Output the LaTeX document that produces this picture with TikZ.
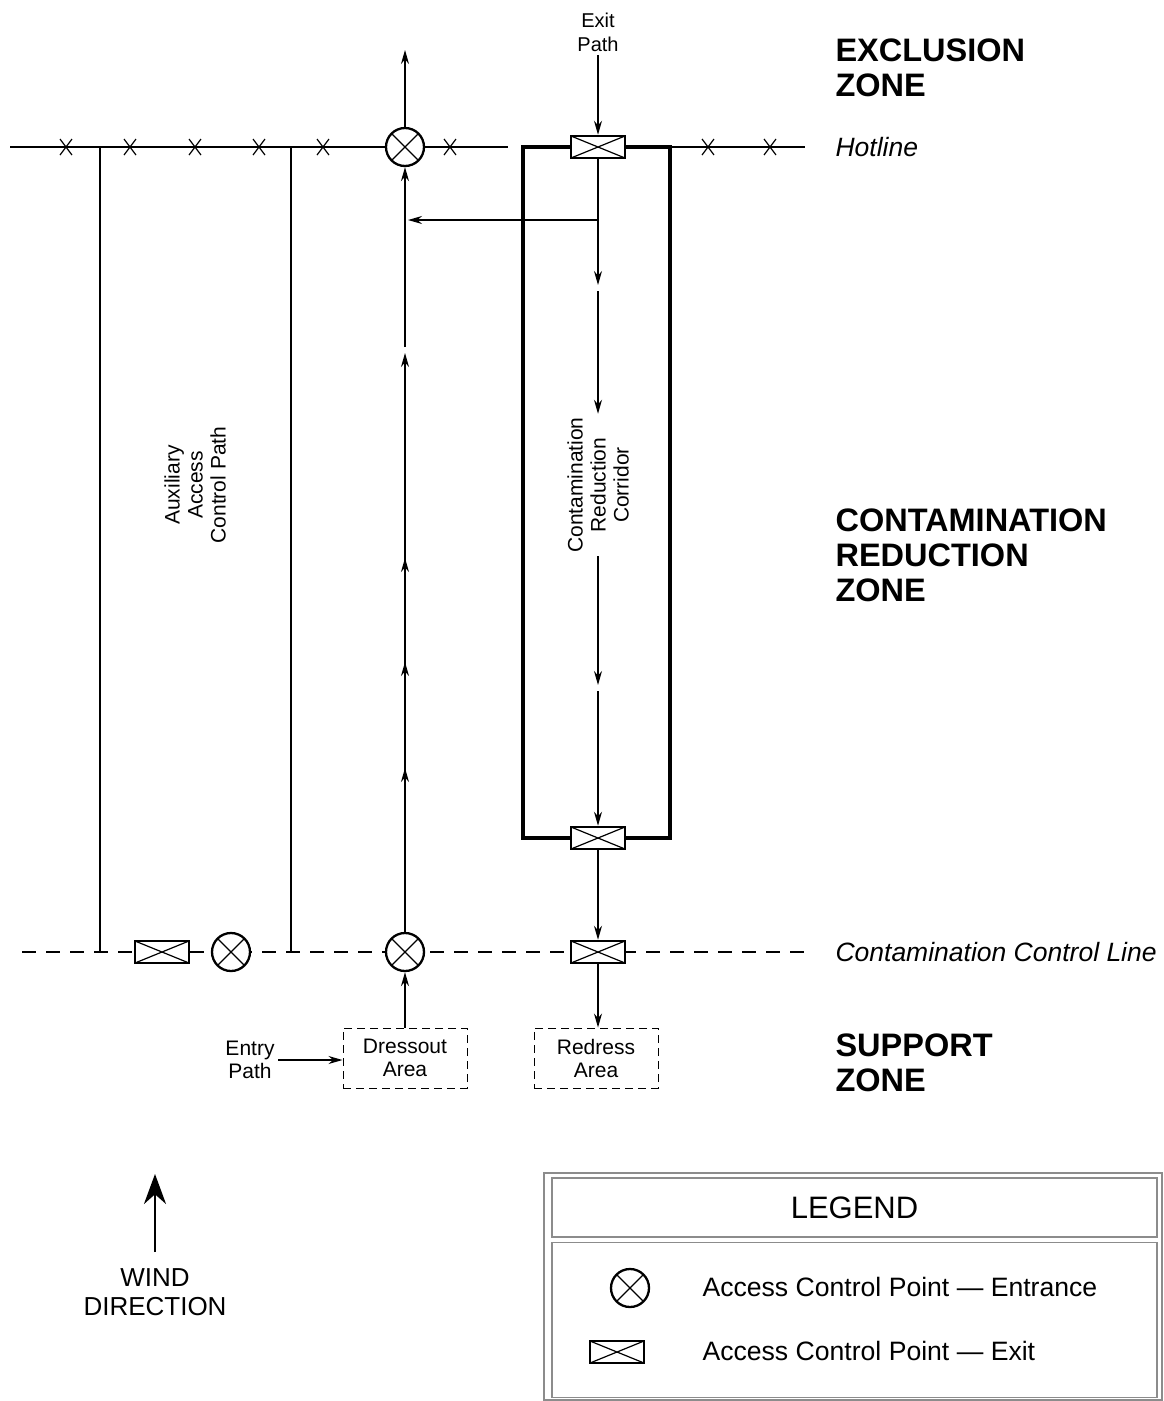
\documentclass[tikz,border=0pt]{standalone}
\usepackage{fontspec}
\setmainfont{Liberation Sans}
\usetikzlibrary{arrows.meta}
\begin{document}
\begin{tikzpicture}[x=1pt,y=-1pt,
  font=\fontsize{21}{23}\selectfont,
  hot/.style={line width=2pt},
  thinline/.style={line width=1.3pt},
  corridor/.style={line width=4pt},
  flow/.style={line width=1.3pt,-{Stealth[length=14pt,width=8pt]}},
  ctrl/.style={line width=2.5pt,dash pattern=on 14pt off 10pt},
  xmark/.style={line width=1.2pt},
  acp/.style={circle,draw,line width=2.3pt,minimum size=38pt,inner sep=0pt,fill=white,
    path picture={\draw[line width=1.2pt]
      (path picture bounding box.north west)--(path picture bounding box.south east)
      (path picture bounding box.north east)--(path picture bounding box.south west);}},
  exitbox/.style={rectangle,draw,line width=2.5pt,minimum width=54pt,minimum height=22pt,inner sep=0pt,fill=white,
    path picture={\draw[line width=1.2pt]
      (path picture bounding box.north west)--(path picture bounding box.south east)
      (path picture bounding box.north east)--(path picture bounding box.south west);}},
  area/.style={draw,line width=1pt,dash pattern=on 8pt off 5pt,minimum width=124pt,minimum height=60pt,
    align=center,inner sep=0pt},
  zone/.style={anchor=west,align=left,font=\bfseries\fontsize{32.5}{35}\selectfont},
  linelbl/.style={anchor=west,font=\itshape\fontsize{26.5}{30}\selectfont},
  legtext/.style={anchor=west,font=\fontsize{26.6}{30}\selectfont},
  frameline/.style={draw=black!45,line width=1.5pt}
]
\useasboundingbox (0,0) rectangle (1164,1401);

% ---------- hotline ----------
\node[acp] (hc) at (405,147) {};
\node[exitbox] (hx) at (598,147) {};
\coordinate (hl0) at (10,147);
\coordinate (hl1) at (508,147);
\coordinate (hr0) at (670,147);
\coordinate (hr1) at (805,147);
\draw[hot] (hl0) -- (hc.west);
\draw[hot] (hc.east) -- (hl1);
\draw[hot] (hr0) -- (hr1);
\foreach \x in {66,130,195,259,323,450,708,770}
  \draw[xmark] (\x-6,139) -- (\x+6,155) (\x+6,139) -- (\x-6,155);

% ---------- contamination control line ----------
\coordinate (cl0) at (22,952);
\coordinate (cl1) at (805,952);
\draw[ctrl] (cl0) -- (cl1);
\node[exitbox] (ax) at (162,952) {};
\node[acp] (ac) at (231,952) {};
\node[acp] (cc) at (405,952) {};
\node[exitbox] (cx) at (598,952) {};

% auxiliary access control path
\coordinate (a1t) at (100,147);
\coordinate (a1b) at (100,952);
\coordinate (a2t) at (291,147);
\coordinate (a2b) at (291,952);
\draw[thinline] (a1t) -- (a1b);
\draw[thinline] (a2t) -- (a2b);
\node[rotate=90,align=center] (auxlbl) at (195,485) {Auxiliary\\Access\\Control Path};

% ---------- decontamination corridor ----------
\node[exitbox] (lx) at (598,838) {};
\coordinate (ctl) at (523,147);
\coordinate (cbl) at (523,838);
\coordinate (ctr) at (670,147);
\coordinate (cbr) at (670,838);
\draw[corridor] (hx.west) -- (ctl) -- (cbl) -- (lx.west);
\draw[corridor] (hx.east) -- (ctr) -- (cbr) -- (lx.east);
\node[exitbox] at (598,147) {};
\node[exitbox] at (598,838) {};

\node[rotate=90,align=center] (corlbl) at (598,485) {Contamination\\Reduction\\Corridor};
\coordinate (d1) at (598,285);
\coordinate (d2) at (598,291);
\coordinate (d3) at (598,685);
\coordinate (d4) at (598,691);
\coordinate (br) at (598,220);
\coordinate (bl) at (408,220);
\draw[flow] (hx.south) -- (d1);
\draw[flow] (d2) -- (corlbl.east);
\draw[flow] (corlbl.west) -- (d3);
\draw[flow] (d4) -- (lx.north);
\draw[flow] (br) -- (bl);
\draw[flow] (lx.south) -- (cx.north);

% ---------- entry route ----------
\coordinate (u1) at (405,768);
\coordinate (u2) at (405,774);
\coordinate (u3) at (405,662);
\coordinate (u4) at (405,668);
\coordinate (u5) at (405,558);
\coordinate (u6) at (405,564);
\coordinate (u7) at (405,353);
\coordinate (u8) at (405,347);
\coordinate (top) at (405,50);
\draw[flow] (cc.north) -- (u1);
\draw[flow] (u2) -- (u3);
\draw[flow] (u4) -- (u5);
\draw[flow] (u6) -- (u7);
\draw[flow] (u8) -- (hc.south);
\draw[flow] (hc.north) -- (top);

% exit path
\node[align=center,font=\fontsize{20}{24}\selectfont] (exitlbl) at (598,32) {Exit\\Path};
\draw[flow] (exitlbl.south) -- (hx.north);

% ---------- support zone areas ----------
\node[area] (dress) at (405,1058) {Dressout\\Area};
\node[area] (redress) at (596,1058) {Redress\\Area};
\node[align=center] (entry) at (250,1060) {Entry\\Path};
\draw[flow] (entry.east) -- (entry.east -| dress.west);
\draw[flow] (dress.north) -- (cc.south);
\draw[flow] (cx.south) -- (cx.south |- redress.north);

% ---------- zone labels ----------
\node[zone] (ez) at (832,68) {EXCLUSION\\ZONE};
\node[linelbl] (hlbl) at (832,147) {Hotline};
\node[zone] (crz) at (832,555) {CONTAMINATION\\REDUCTION\\ZONE};
\node[linelbl] (cllbl) at (832,952) {Contamination Control Line};
\node[zone] (sz) at (832,1063) {SUPPORT\\ZONE};

% ---------- wind direction ----------
\coordinate (wt) at (155,1252);
\coordinate (wh) at (155,1174);
\draw[line width=2.5pt,-{Stealth[length=30pt,width=22pt]}] (wt) -- (wh);
\node[align=center,font=\fontsize{26}{29}\selectfont] (wind) at (155,1292) {WIND\\DIRECTION};

% ---------- legend ----------
\draw[frameline] (544,1173) rectangle (1162,1400);
\node[frameline,minimum width=605pt,minimum height=59pt,inner sep=0pt,font=\fontsize{31}{33}\selectfont]
  (legtitle) at (854.5,1207.5) {LEGEND};
\node[frameline,minimum width=605pt,minimum height=155pt,inner sep=0pt] (legbody) at (854.5,1320) {};
\node[acp] (legc) at (630,1288) {};
\node[exitbox,line width=2pt] (legx) at (617,1352) {};
\node[legtext] (legct) at (699,1287) {Access Control Point — Entrance};
\node[legtext] (legxt) at (699,1351) {Access Control Point — Exit};
\end{tikzpicture}
\end{document}
